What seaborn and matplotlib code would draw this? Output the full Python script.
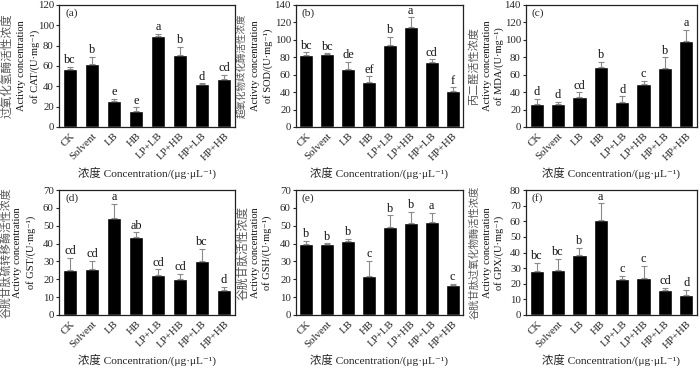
import numpy as np
import pandas as pd
import matplotlib
matplotlib.use('Agg')
import matplotlib.pyplot as plt
import seaborn as sns

treatments = ['CK', 'Solvent', 'LB', 'HB', 'LP+LB', 'LP+HB', 'HP+LB', 'HP+HB']

cat_mean = [57.5, 61.5, 25.2, 15.7, 89.9, 70.9, 42.2, 47.0]
cat_err = [1.5, 7.5, 2.8, 3.6, 1.9, 8.1, 0.6, 4.6]
cat_sig = ['bc', 'b', 'e', 'e', 'a', 'b', 'd', 'cd']

sod_mean = [82.8, 83.6, 66.0, 51.9, 93.9, 115.3, 74.4, 41.2]
sod_err = [2.7, 0.8, 8.4, 6.1, 9.9, 10.7, 3.1, 4.2]
sod_sig = ['bc', 'bc', 'de', 'ef', 'b', 'a', 'cd', 'f']

mda_mean = [26.0, 26.7, 34.7, 68.3, 29.0, 48.9, 67.2, 99.2]
mda_err = [6.0, 2.3, 5.0, 6.1, 6.0, 3.8, 12.6, 12.6]
mda_sig = ['d', 'd', 'cd', 'b', 'd', 'c', 'b', 'a']

gst_mean = [25.2, 25.6, 54.1, 43.9, 22.2, 20.2, 30.0, 13.9]
gst_err = [6.7, 4.8, 8.1, 2.4, 3.4, 2.8, 7.2, 1.7]
gst_sig = ['cd', 'cd', 'a', 'ab', 'cd', 'cd', 'bc', 'd']

gsh_mean = [40.0, 40.0, 41.3, 22.0, 49.2, 51.7, 52.3, 17.0]
gsh_err = [1.7, 0.2, 1.3, 8.4, 6.6, 6.0, 5.1, 0.4]
gsh_sig = ['b', 'b', 'b', 'c', 'b', 'b', 'a', 'c']

gpx_mean = [28.4, 28.8, 38.7, 60.9, 23.0, 23.9, 16.1, 12.7]
gpx_err = [5.1, 7.3, 4.3, 10.5, 2.0, 7.5, 1.1, 3.2]
gpx_sig = ['bc', 'bc', 'b', 'a', 'c', 'c', 'cd', 'd']

panel_tags = ['(a)', '(b)', '(c)', '(d)', '(e)', '(f)']
cn_labels = ['过氧化氢酶活性浓度', '超氧化物歧化酶活性浓度', '丙二醛活性浓度',
             '谷胱甘肽硫转移酶活性浓度', '谷胱甘肽活性浓度', '谷胱甘肽过氧化物酶活性浓度']
en_names = ['CAT', 'SOD', 'MDA', 'GST', 'GSH', 'GPX']
ymax = [120, 140, 140, 70, 70, 80]
ystep = [20, 20, 20, 10, 10, 10]
xlabel_text = '浓度 Concentration/(μg·μL⁻¹)'

sns.set_style('ticks')
plt.rcParams['font.family'] = ['Liberation Serif', 'Noto Sans CJK SC', 'DejaVu Serif']

W, H = 700, 368
fig = plt.figure(figsize=(7.0, 3.68), dpi=100)

# axes boxes in pixels: left, top, right, bottom
boxes = [(59, 5, 235, 127), (296, 5, 463, 127), (526, 5, 697, 127),
         (59, 190, 235, 315), (296, 190, 463, 315), (526, 190, 697, 315)]
# label x positions in pixels (cn, en1, en2)
lab_x = [(8, 22, 35), (242, 255, 268), (474, 487, 499),
         (6, 18, 31), (243, 255, 267), (474, 487, 499)]
cn_sizes = [8.4, 6.8, 8.0, 7.8, 8.5, 7.4]
xlab_y = [173, 173, 173, 360, 360, 360]

means = [cat_mean, sod_mean, mda_mean, gst_mean, gsh_mean, gpx_mean]
errs = [cat_err, sod_err, mda_err, gst_err, gsh_err, gpx_err]
sigs = [cat_sig, sod_sig, mda_sig, gst_sig, gsh_sig, gpx_sig]

for k in range(6):
    l, t, r, b = boxes[k]
    ax = fig.add_axes([l / W, 1 - b / H, (r - l) / W, (b - t) / H])
    df = pd.DataFrame({'treatment': treatments, 'value': means[k]})
    sns.barplot(data=df, x='treatment', y='value', color='black', saturation=1,
                width=0.67, errorbar=None, ax=ax)
    x = np.arange(len(treatments))
    ax.errorbar(x, means[k], yerr=[np.zeros(len(x)), errs[k]], fmt='none',
                ecolor='#8a8a8a', elinewidth=0.8, capsize=2, capthick=0.8, zorder=3)
    for i, (m, e, s) in enumerate(zip(means[k], errs[k], sigs[k])):
        ax.annotate(s, (i, m + e), xytext=(0, 0.5), textcoords='offset points',
                    ha='center', va='bottom', fontsize=8.8, color='#111')
    ax.set_xlim(-0.5, len(treatments) - 0.5)
    ax.set_ylim(0, ymax[k])
    ax.set_yticks(np.arange(0, ymax[k] + 0.1, ystep[k]))
    ax.set_xticks(x)
    ax.set_xticklabels(treatments, rotation=45, ha='right', va='top',
                       rotation_mode='anchor', fontsize=7.8)
    ax.tick_params(axis='y', direction='out', length=2.5, width=0.8, labelsize=7.8, pad=1.2)
    ax.tick_params(axis='x', direction='out', length=0, pad=3)
    ax.set_xlabel('')
    ax.set_ylabel('')
    for sp in ax.spines.values():
        sp.set_visible(True)
        sp.set_linewidth(0.9)
        sp.set_color('#222')
    ax.text(0.035, 0.935, panel_tags[k], transform=ax.transAxes, fontsize=8.2,
            ha='left', va='center')
    yc = 1 - ((t + b) / 2) / H
    cx, e1x, e2x = lab_x[k]
    fig.text(cx / W, yc, cn_labels[k], rotation=90, ha='center', va='center',
             fontsize=cn_sizes[k], color='#555')
    fig.text(e1x / W, yc, 'Activty concentration', rotation=90, ha='center',
             va='center', fontsize=7.5, color='#111')
    fig.text(e2x / W, yc, 'of ' + en_names[k] + '/(U·mg⁻¹)', rotation=90,
             ha='center', va='center', fontsize=7.5, color='#111')
    fig.text(((l + r) / 2) / W, 1 - xlab_y[k] / H, xlabel_text, ha='center',
             va='center', fontsize=8.2, color='#222')

fig.savefig('out.png', dpi=100)
